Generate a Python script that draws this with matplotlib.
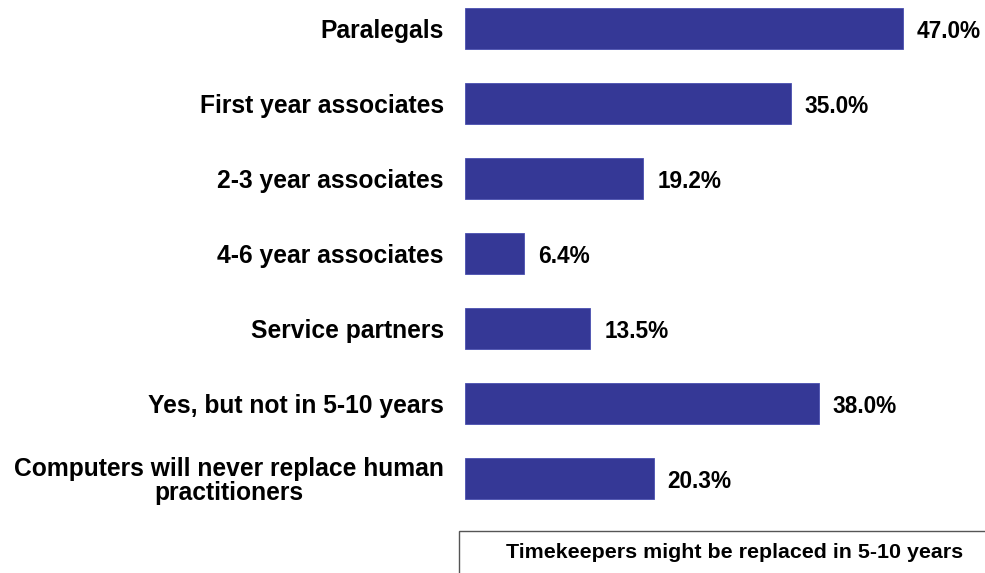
import matplotlib
matplotlib.use("Agg")
import matplotlib.pyplot as plt
from matplotlib.patches import Rectangle

categories = ["Paralegals", "First year associates", "2-3 year associates",
              "4-6 year associates", "Service partners", "Yes, but not in 5-10 years",
              "Computers will never replace human\npractitioners"]
values = [47.0, 35.0, 19.2, 6.4, 13.5, 38.0, 20.3]
legend_title = "Timekeepers might be replaced in 5-10 years"

W, H = 985, 573
fig = plt.figure(figsize=(W / 100, H / 100), dpi=100)
plt.rcParams['font.family'] = ['Liberation Sans', 'DejaVu Sans']

left_px, right_px = 464.5, 464.5 + 466
top_px, bot_px = 0, 525
ax = fig.add_axes([left_px / W, 1 - bot_px / H, (right_px - left_px) / W, (bot_px - top_px) / H])
ax.set_xlim(0, 50)
ax.set_ylim(6.62, -0.38)

pos = list(range(len(categories)))
ax.barh(pos, values, height=0.55, color="#353896", edgecolor="#4a4fb0", linewidth=0.6)
for p, v in zip(pos, values):
    ax.annotate(f"{v:.1f}%", (v, p), xytext=(10, -0.5), textcoords="offset points",
                ha="left", va="center_baseline", fontsize=16.3, fontweight="bold", color="black",
                annotation_clip=False)
ax.set_yticks(pos)
ax.set_yticklabels(categories, fontsize=17.7, fontweight="bold", multialignment="center",
                   linespacing=1.0)
ax.tick_params(axis="y", length=0, pad=15)
ax.tick_params(axis="x", bottom=False, labelbottom=False)
for s in ax.spines.values():
    s.set_visible(False)

# legend-like box at bottom
bx, by = 459, 531
rect = Rectangle((bx / W, 1 - (H + 20) / H), (W + 10 - bx) / W, (H + 20 - by) / H,
                 transform=fig.transFigure, facecolor="white", edgecolor="#555555",
                 linewidth=1.0, clip_on=False)
fig.patches.append(rect)
fig.text(735 / W, 1 - 552 / H, legend_title, ha="center", va="center",
         fontsize=15.4, fontweight="bold")

fig.savefig("out.png", dpi=100)
